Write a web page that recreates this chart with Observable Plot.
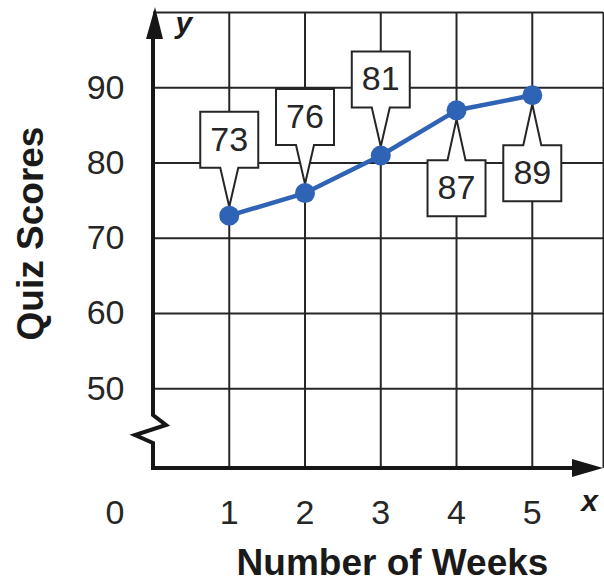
<!DOCTYPE html>
<html>
<head>
<meta charset="utf-8">
<script src="https://cdn.jsdelivr.net/npm/d3@7"></script>
<script src="https://cdn.jsdelivr.net/npm/@observablehq/plot@0.6"></script>
<style>
  html, body { margin: 0; padding: 0; background: #fff; }
</style>
</head>
<body>
<div id="chart"></div>
<script>
// Weekly quiz scores
const weeks = [1, 2, 3, 4, 5];
const scores = [73, 76, 81, 87, 89];
const labelSide = ["above", "above", "above", "below", "below"];

// Axis ticks and grid
const xTicks = [1, 2, 3, 4, 5];
const yTicks = [50, 60, 70, 80, 90];
const gridY = [50, 60, 70, 80, 90, 100];
const xMax = 5.94;   // grid runs off the right side
const yBase = 39.4;  // broken axis: x-axis sits below 50
const yTop = 100;

const data = weeks.map((w, i) => ({week: w, score: scores[i], side: labelSide[i]}));

const ink = "#262626";
const blue = "#2f63b5";

// Callout shapes: a box with a pointer toward the point
const boxW = 29;
const calloutAbove = {
  draw(ctx) {
    ctx.moveTo(0, -9);
    ctx.lineTo(9, -48);
    ctx.lineTo(boxW, -48);
    ctx.lineTo(boxW, -104);
    ctx.lineTo(-boxW, -104);
    ctx.lineTo(-boxW, -48);
    ctx.lineTo(-9, -48);
    ctx.closePath();
  }
};
const calloutBelow = {
  draw(ctx) {
    ctx.moveTo(0, 9);
    ctx.lineTo(9, 50);
    ctx.lineTo(boxW, 50);
    ctx.lineTo(boxW, 106);
    ctx.lineTo(-boxW, 106);
    ctx.lineTo(-boxW, 50);
    ctx.lineTo(-9, 50);
    ctx.closePath();
  }
};

// Axis lines with arrowheads and the break in the y-axis
function axesWithArrows(index, scales) {
  const g = d3.create("svg:g");
  const x0 = scales.x(0);
  const xr = scales.x(xMax);
  const yb = scales.y(yBase);
  const yt = scales.y(yTop);
  // x-axis
  g.append("path")
    .attr("d", `M${x0 - 2},${yb}H${xr - 28}`)
    .attr("stroke", "#161616").attr("stroke-width", 4).attr("fill", "none");
  g.append("path")
    .attr("d", `M${xr},${yb}L${xr - 31},${yb - 9}L${xr - 31},${yb + 9}Z`)
    .attr("fill", "#161616");
  // y-axis with zigzag break
  g.append("path")
    .attr("d", `M${x0},${yb + 2}V${yb - 25}L${x0 - 18},${yb - 33}L${x0 + 13},${yb - 43}L${x0},${yb - 53}V${yt + 24}`)
    .attr("stroke", "#161616").attr("stroke-width", 4).attr("fill", "none")
    .attr("stroke-linejoin", "miter");
  g.append("path")
    .attr("d", `M${x0 + 2},${yt - 5}L${x0 - 7},${yt + 27}L${x0 + 10},${yt + 27}Z`)
    .attr("fill", "#161616");
  return g.node();
}

const chart = Plot.plot({
  width: 604,
  height: 585,
  marginLeft: 153,
  marginRight: 1,
  marginTop: 12,
  marginBottom: 117,
  style: {
    fontFamily: "'Liberation Sans', Arial, Helvetica, sans-serif",
    color: ink,
    background: "#fff"
  },
  x: {domain: [0, xMax]},
  y: {domain: [yBase, yTop]},
  marks: [
    // grid
    Plot.ruleY(gridY, {x1: 0, x2: xMax, stroke: ink, strokeWidth: 2, strokeOpacity: 1}),
    Plot.ruleX([...xTicks, xMax], {y1: yBase, y2: yTop, stroke: ink, strokeWidth: 2, strokeOpacity: 1}),
    // data line
    Plot.line(data, {x: "week", y: "score", stroke: blue, strokeWidth: 4.5}),
    // callouts
    Plot.dot(data.filter(d => d.side === "above"), {
      x: "week", y: "score", symbol: calloutAbove, r: 10,
      fill: "white", stroke: ink, strokeWidth: 2
    }),
    Plot.dot(data.filter(d => d.side === "below"), {
      x: "week", y: "score", symbol: calloutBelow, r: 10,
      fill: "white", stroke: ink, strokeWidth: 2
    }),
    Plot.text(data.filter(d => d.side === "above"), {
      x: "week", y: "score", text: d => String(d.score), dy: -76,
      fontSize: 34, fill: ink
    }),
    Plot.text(data.filter(d => d.side === "below"), {
      x: "week", y: "score", text: d => String(d.score), dy: 78,
      fontSize: 34, fill: ink
    }),
    // points
    Plot.dot(data, {x: "week", y: "score", r: 10, fill: blue, stroke: "none"}),
    // axes
    axesWithArrows,
    Plot.axisY({ticks: yTicks, tickSize: 0, tickPadding: 29, fontSize: 34, label: null, tickFormat: d => String(d)}),
    Plot.axisX({ticks: xTicks, tickSize: 0, tickPadding: 31, fontSize: 34, label: null, tickFormat: d => String(d)}),
    Plot.text(["0"], {frameAnchor: "bottom-left", dx: -29, dy: 31, lineAnchor: "top", textAnchor: "end", fontSize: 34, fill: ink}),
    // axis titles
    Plot.text(["Quiz Scores"], {frameAnchor: "left", rotate: -90, dx: -122, dy: -7, textAnchor: "middle", lineAnchor: "middle", fontSize: 37, fontWeight: "bold", fill: "#1a1a1a"}),
    Plot.text(["Number of Weeks"], {frameAnchor: "bottom", dx: 14, dy: 95, textAnchor: "middle", lineAnchor: "middle", fontSize: 37, fontWeight: "bold", fill: "#1a1a1a"}),
    Plot.text(["y"], {frameAnchor: "top-left", dx: 22, dy: 11, textAnchor: "start", lineAnchor: "middle", fontSize: 30, fontWeight: "bold", fontStyle: "italic", fill: "#1a1a1a"}),
    Plot.text(["x"], {frameAnchor: "bottom-right", dx: -14, dy: 33, textAnchor: "middle", lineAnchor: "middle", fontSize: 30, fontWeight: "bold", fontStyle: "italic", fill: "#1a1a1a"})
  ]
});

document.getElementById("chart").appendChild(chart);
</script>
</body>
</html>
